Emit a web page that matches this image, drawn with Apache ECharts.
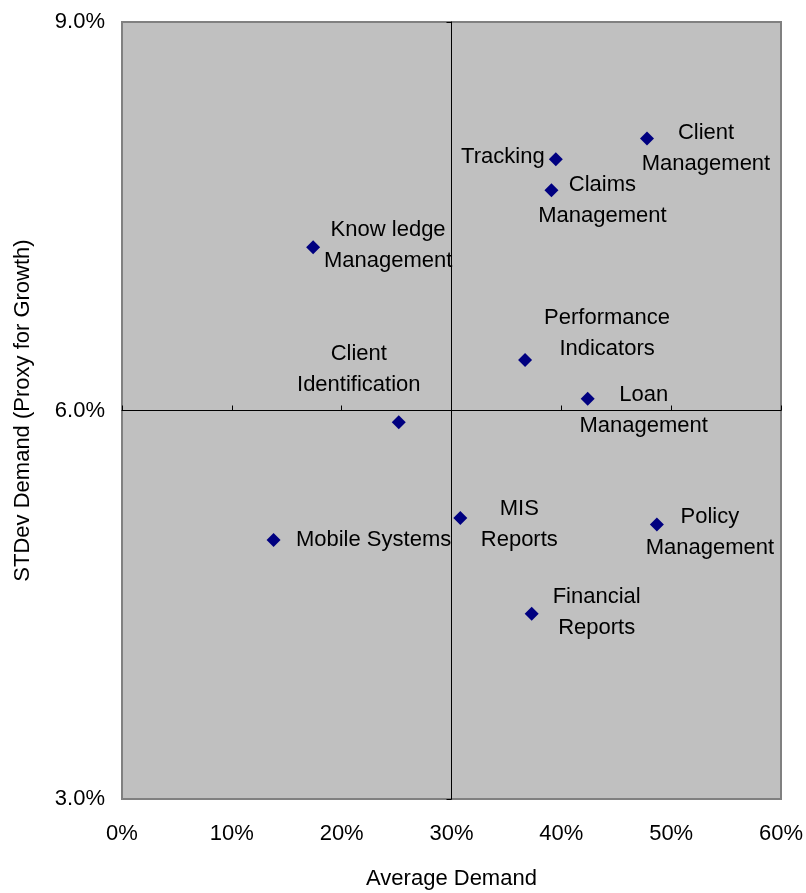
<!DOCTYPE html>
<html>
<head>
<meta charset="utf-8">
<script src="https://cdn.jsdelivr.net/npm/echarts@6/dist/echarts.min.js"></script>
<style>
html,body{margin:0;padding:0;background:#fff;}
#chart{width:806px;height:893px;}
</style>
</head>
<body>
<div id="chart"></div>
<script>
// Data
const names = ["Tracking", "Claims\nManagement", "Client\nManagement", "Know ledge\nManagement",
  "Performance\nIndicators", "Loan\nManagement", "Client\nIdentification", "Mobile Systems",
  "MIS\nReports", "Policy\nManagement", "Financial\nReports"];
const avgDemand = [39.5, 39.1, 47.8, 17.4, 36.7, 42.4, 25.2, 13.8, 30.8, 48.7, 37.3];
const stdevDemand = [7.94, 7.70, 8.10, 7.26, 6.39, 6.09, 5.91, 5.00, 5.17, 5.12, 4.43];
const xTicks = [0, 10, 20, 30, 40, 50, 60];
const yTicks = [3, 6, 9];

// label offsets (style only)
const labelOffsets = [[-53,-2],[51,10],[59,9.5],[75,-2],[82,-26.5],[56,12],[-40,-53],[100,0],[59,6],[53,8],[65,-1]];

const FONT = 'Liberation Sans, Arial, sans-serif';
const data = names.map((n, i) => ({
  name: n,
  value: [avgDemand[i], stdevDemand[i]],
  label: { offset: labelOffsets[i] }
}));

const chart = echarts.init(document.getElementById('chart'));
const gridLeft = 122, gridRight = 25, gridTop = 22, gridBottom = 94;
const gw = 806 - gridLeft - gridRight, gh = 893 - gridTop - gridBottom;

chart.setOption({
  animation: false,
  grid: { left: gridLeft, right: gridRight, top: gridTop, bottom: gridBottom, show: true,
    containLabel: false, outerBoundsMode: 'none',
    backgroundColor: '#C0C0C0', borderColor: '#808080', borderWidth: 2 },
  xAxis: [{
    type: 'value', min: xTicks[0], max: xTicks[xTicks.length-1], interval: 10,
    axisLine: { show: false }, axisTick: { show: false }, splitLine: { show: false },
    axisLabel: { formatter: '{value}%', color: '#000', fontFamily: FONT, fontSize: 22, margin: 24 },
    name: 'Average Demand', nameLocation: 'middle', nameGap: 69,
    nameTextStyle: { color: '#000', fontFamily: FONT, fontSize: 22 }
  }, {
    type: 'value', min: xTicks[0], max: xTicks[xTicks.length-1], interval: 10, position: 'bottom',
    offset: -gh / 2,
    axisLine: { show: true, lineStyle: { color: '#000', width: 1 } },
    axisTick: { show: true, inside: true, length: 5, lineStyle: { color: '#000' } },
    axisLabel: { show: false }, splitLine: { show: false }
  }],
  yAxis: [{
    type: 'value', min: yTicks[0], max: yTicks[yTicks.length-1], interval: 3,
    axisLine: { show: false }, axisTick: { show: false }, splitLine: { show: false },
    axisLabel: { formatter: v => v.toFixed(1) + '%', color: '#000', fontFamily: FONT, fontSize: 22, margin: 17,
      padding: [2, 0, 0, 0] },
    name: 'STDev Demand (Proxy for Growth)', nameLocation: 'middle', nameGap: 88,
    nameTextStyle: { color: '#000', fontFamily: FONT, fontSize: 22 }
  }, {
    type: 'value', min: yTicks[0], max: yTicks[yTicks.length-1], interval: 3, position: 'left',
    offset: -gw / 2,
    axisLine: { show: true, lineStyle: { color: '#000', width: 1 } },
    axisTick: { show: true, inside: false, length: 5, lineStyle: { color: '#000' } },
    axisLabel: { show: false }, splitLine: { show: false }
  }],
  series: [{
    type: 'scatter', xAxisIndex: 0, yAxisIndex: 0,
    symbol: 'diamond', symbolSize: 14,
    itemStyle: { color: '#000080', opacity: 1 },
    label: {
      show: true, position: 'inside', formatter: p => p.name,
      color: '#000', textBorderWidth: 0, fontFamily: FONT, fontSize: 22, lineHeight: 31,
      align: 'center', verticalAlign: 'middle'
    },
    emphasis: { disabled: true },
    data: data,
    z: 5
  }]
});
</script>
</body>
</html>
